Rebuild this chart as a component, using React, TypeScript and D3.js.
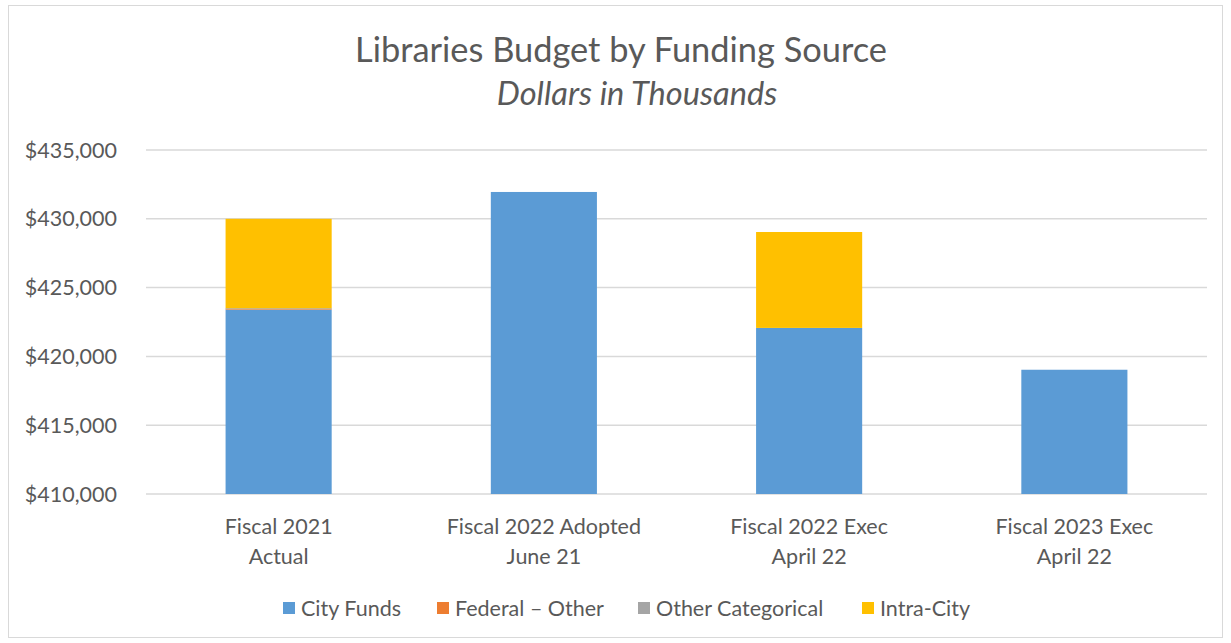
import React from "react";
import * as d3 from "d3";

const categories = [
  ["Fiscal 2021", "Actual"],
  ["Fiscal 2022 Adopted", "June 21"],
  ["Fiscal 2022 Exec", "April 22"],
  ["Fiscal 2023 Exec", "April 22"],
];
const seriesNames = ["City Funds", "Federal – Other", "Other Categorical", "Intra-City"];
const seriesColors = ["#5b9bd5", "#ed7d31", "#a5a5a5", "#ffc000"];
const cityFunds = [423400, 431950, 422070, 419030];
const federalOther = [60, 0, 0, 0];
const otherCategorical = [40, 0, 0, 0];
const intraCity = [6500, 0, 6970, 0];
const yTicks = [410000, 415000, 420000, 425000, 430000, 435000];

const W = 1231, H = 643;
const left = 146, right = 1207, top = 150, bottom = 494;
const FONT = "Lato, 'Open Sans', sans-serif";
const TXT = "#595959";
const FS = 21.5;

export default function App() {
  const x = d3.scaleBand<number>().domain(d3.range(categories.length)).range([left, right]).paddingInner(0.6).paddingOuter(0.3);
  const y = d3.scaleLinear().domain([410000, 435000]).range([bottom, top]).clamp(true);
  const rows = categories.map((_, i) => ({
    i,
    s0: cityFunds[i], s1: federalOther[i], s2: otherCategorical[i], s3: intraCity[i],
  }));
  const stack = d3.stack<any>().keys(["s0", "s1", "s2", "s3"])(rows);
  const fmt = (v: number) => "$" + d3.format(",")(v);
  const legendX = [283, 437, 638, 862];

  return (
    <svg width={W} height={H} style={{ position: "absolute", left: 0, top: 0, background: "#fff" }}>
      <rect x={8.5} y={5.5} width={1214} height={632} fill="#fff" stroke="#d9d9d9" strokeWidth={1} />
      <text x={621} y={62} textAnchor="middle" fontFamily={FONT} fontSize={34.4} fill={TXT}>
        Libraries Budget by Funding Source
      </text>
      <text x={637} y={105} textAnchor="middle" fontFamily={FONT} fontSize={32.6} fontStyle="italic" fill={TXT}>
        Dollars in Thousands
      </text>
      {yTicks.map((t) => (
        <g key={t}>
          <line x1={left} x2={right} y1={y(t)} y2={y(t)} stroke="#d9d9d9" strokeWidth={1.5} />
          <text x={117} y={y(t) + 7.5} textAnchor="end" fontFamily={FONT} fontSize={FS} fill={TXT}>
            {fmt(t)}
          </text>
        </g>
      ))}
      {stack.map((layer, si) =>
        layer.map((d, ci) => {
          const h = y(d[0]) - y(d[1]);
          if (h <= 0) return null;
          return (
            <rect key={si + "-" + ci} x={x(ci)} width={x.bandwidth()} y={y(d[1])} height={Math.max(h, 0.8)}
              fill={seriesColors[si]} />
          );
        })
      )}
      {categories.map((c, i) => (
        <text key={i} x={(x(i) as number) + x.bandwidth() / 2} textAnchor="middle" fontFamily={FONT} fontSize={FS} fill={TXT}>
          <tspan x={(x(i) as number) + x.bandwidth() / 2} y={534}>{c[0]}</tspan>
          <tspan x={(x(i) as number) + x.bandwidth() / 2} y={564}>{c[1]}</tspan>
        </text>
      ))}
      {seriesNames.map((n, i) => (
        <g key={n}>
          <rect x={legendX[i]} y={602} width={12} height={12} fill={seriesColors[i]} />
          <text x={legendX[i] + 18} y={615.5} fontFamily={FONT} fontSize={FS} fill={TXT}>{n}</text>
        </g>
      ))}
    </svg>
  );
}
